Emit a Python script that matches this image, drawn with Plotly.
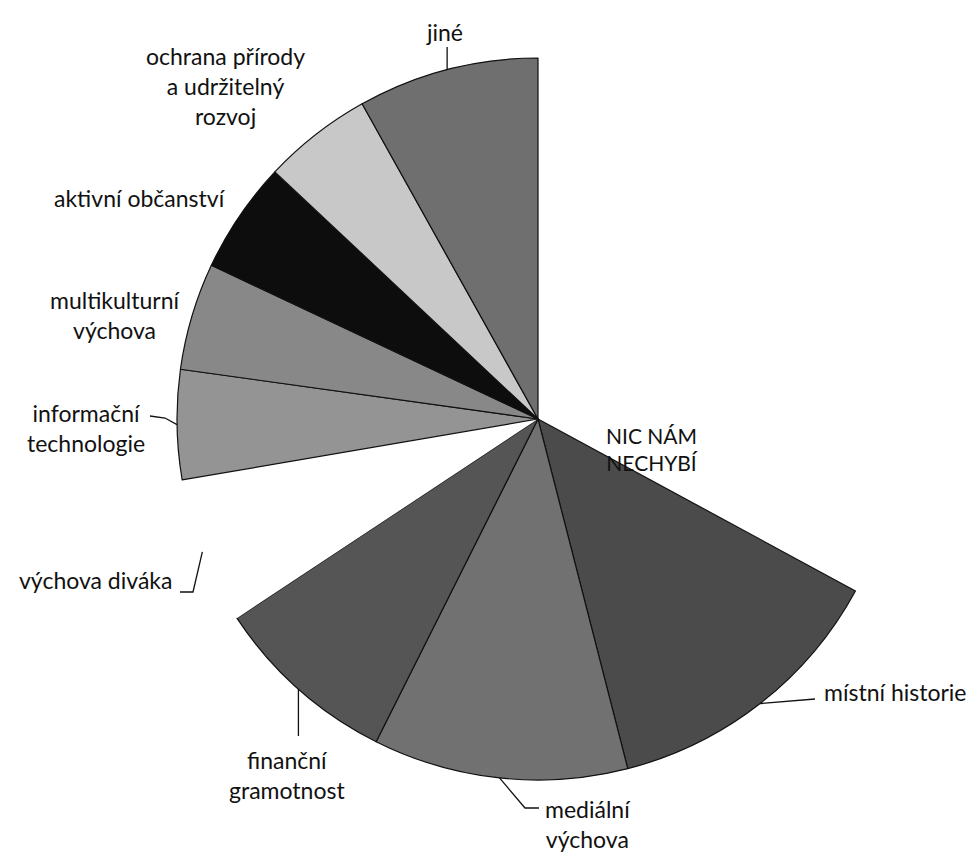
import math
import plotly.graph_objects as go

# ---- data (share of answers, %) ----
categories = [
    "NIC NÁM NECHYBÍ",
    "místní historie",
    "mediální výchova",
    "finanční gramotnost",
    "výchova diváka",
    "informační technologie",
    "multikulturní výchova",
    "aktivní občanství",
    "ochrana přírody a udržitelný rozvoj",
    "jiné",
]
values = [32.9, 13.1, 11.4, 8.3, 6.6, 4.9, 4.8, 5.0, 4.9, 8.1]
label_texts = [
    "NIC NÁM<br>NECHYBÍ",
    "místní historie",
    "mediální<br>výchova",
    "finanční<br>gramotnost",
    "výchova diváka",
    "informační<br>technologie",
    "multikulturní<br>výchova",
    "aktivní občanství",
    "ochrana přírody<br>a udržitelný<br>rozvoj",
    "jiné",
]

# ---- styles / layout ----
colors = ["#ffffff", "#4b4b4b", "#717171", "#555555", "#ffffff",
          "#949494", "#888888", "#0d0d0d", "#c8c8c8", "#6f6f6f"]
line_w = [0 if c == "#ffffff" else 1.2 for c in colors]

W, H = 979, 853
CX, CY, R = 538, 419, 361    # pie centre and radius in px
FONT = "Lato"
FS = 23

# label block centres in px: (x, y, xanchor, font size)
label_pos = {
    0: (652, 449, "center", 21),
    1: (822, 692, "left", FS),
    2: (588, 824, "center", FS),
    3: (287, 775, "center", FS),
    4: (174, 580, "right", FS),
    5: (86, 428, "center", FS),
    6: (115, 315, "center", FS),
    7: (140, 198, "center", FS),
    8: (225, 86, "center", FS),
    9: (444, 32, "center", FS),
}
# leader waypoints after the arc point (px); None keeps the arc x
leader_via = {
    1: [(815, 699)],
    2: [(525, 808), (539, 808)],
    3: [(None, 736)],
    4: [(193, 592), (180, 592)],
    5: [(165, 418), (150, 416)],
    9: [(None, 47)],
}


def to_paper(x, y):
    return x / W, 1 - y / H


x0, y1 = to_paper(CX - R, CY - R)
x1, y0 = to_paper(CX + R, CY + R)

fig = go.Figure(
    go.Pie(
        labels=categories,
        values=values,
        sort=False,
        direction="clockwise",
        rotation=0,
        textinfo="none",
        hoverinfo="label+percent",
        marker=dict(colors=colors, line=dict(color="#111111", width=line_w)),
        domain=dict(x=[x0, x1], y=[y0, y1]),
        showlegend=False,
    )
)

# leader lines from each slice's outer arc midpoint (computed from the data)
total = sum(values)
cum = 0.0
shapes = []
for i, v in enumerate(values):
    mid = (cum + v / 2) / total * 2 * math.pi
    cum += v
    ax_ = CX + R * math.sin(mid)
    ay_ = CY - R * math.cos(mid)
    if i in leader_via:
        pts = [(ax_, ay_)]
        for px, py in leader_via[i]:
            pts.append((ax_ if px is None else px, py))
        path = ""
        for k, (px, py) in enumerate(pts):
            xp, yp = to_paper(px, py)
            path += ("M" if k == 0 else " L") + f" {xp:.5f},{yp:.5f}"
        shapes.append(dict(type="path", xref="paper", yref="paper", path=path,
                           line=dict(color="#111111", width=1.3)))

annotations = []
for i, t in enumerate(label_texts):
    lx, ly, anchor, fs = label_pos[i]
    xp, yp = to_paper(lx, ly)
    annotations.append(dict(x=xp, y=yp, xref="paper", yref="paper", text=t,
                            showarrow=False, xanchor=anchor, yanchor="middle",
                            align="center",
                            font=dict(family=FONT, size=fs, color="#111111")))

fig.update_layout(
    width=W, height=H,
    margin=dict(l=0, r=0, t=0, b=0),
    paper_bgcolor="white", plot_bgcolor="white",
    shapes=shapes, annotations=annotations,
)

fig.write_html(
    "out.html",
    config={"displayModeBar": False},
    post_script="document.body.style.margin='0';document.body.style.overflow='hidden';",
)
